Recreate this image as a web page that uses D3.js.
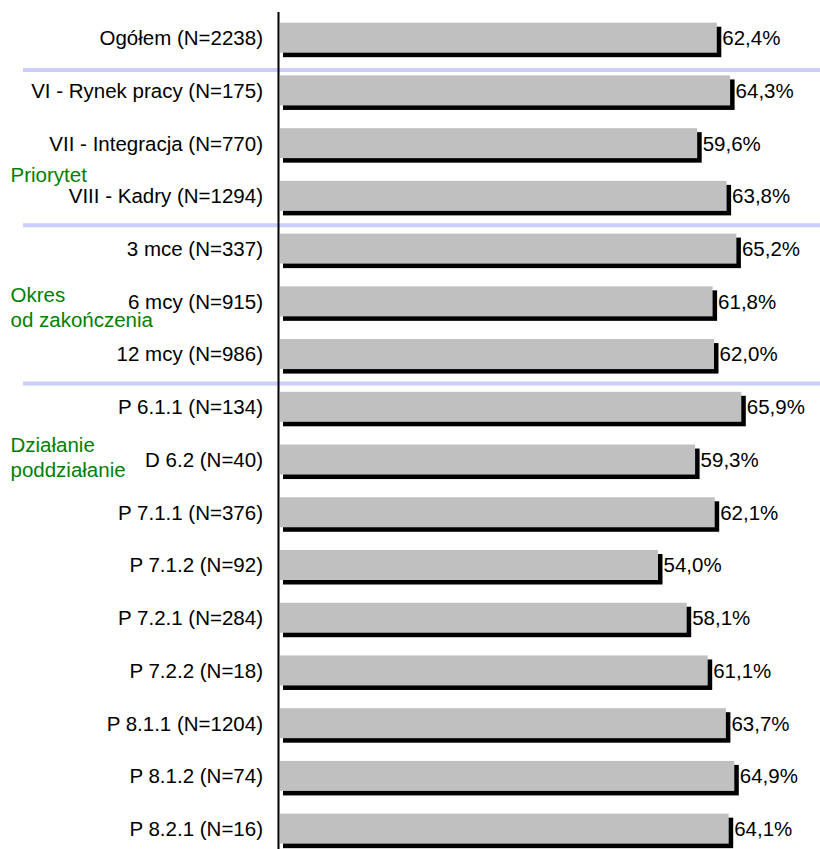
<!DOCTYPE html>
<html>
<head>
<meta charset="utf-8">
<script src="https://cdn.jsdelivr.net/npm/d3@7"></script>
<style>
  html, body { margin: 0; padding: 0; background: #ffffff; }
  svg { display: block; font-family: "Liberation Sans", Arial, sans-serif; }
</style>
</head>
<body>
<svg id="chart" width="820" height="849"></svg>
<script>
// ---- data ----
const categories = [
  "Ogółem (N=2238)",
  "VI - Rynek pracy (N=175)",
  "VII - Integracja (N=770)",
  "VIII - Kadry (N=1294)",
  "3 mce (N=337)",
  "6 mcy (N=915)",
  "12 mcy (N=986)",
  "P 6.1.1 (N=134)",
  "D 6.2 (N=40)",
  "P 7.1.1 (N=376)",
  "P 7.1.2 (N=92)",
  "P 7.2.1 (N=284)",
  "P 7.2.2 (N=18)",
  "P 8.1.1 (N=1204)",
  "P 8.1.2 (N=74)",
  "P 8.2.1 (N=16)"
];
const values = [62.4, 64.3, 59.6, 63.8, 65.2, 61.8, 62.0, 65.9, 59.3, 62.1, 54.0, 58.1, 61.1, 63.7, 64.9, 64.1];
const valueLabels = ["62,4%", "64,3%", "59,6%", "63,8%", "65,2%", "61,8%", "62,0%", "65,9%", "59,3%", "62,1%", "54,0%", "58,1%", "61,1%", "63,7%", "64,9%", "64,1%"];
// separators drawn after these category indices
const separatorsAfter = [0, 3, 6];
// group labels (lines) anchored to categories
const groupLabels = [
  { lines: ["Priorytet"], anchor: "VIII - Kadry (N=1294)" },
  { lines: ["Okres", "od zakończenia"], anchor: "6 mcy (N=915)" },
  { lines: ["Działanie", "poddziałanie"], anchor: "D 6.2 (N=40)" }
];

// ---- layout ----
const svg = d3.select("#chart");
const x0 = 280;
const x = d3.scaleLinear().domain([0, 100]).range([x0, x0 + 700]);
const step = 52.73;
const yStart = 37.7 - step / 2;
const y = d3.scaleBand()
  .domain(categories)
  .range([yStart, yStart + step * categories.length])
  .paddingInner(0.431)
  .paddingOuter(0.2155);
const bw = y.bandwidth();
const fontSize = 20.5;

// separator lines
const sepOffsets = [6, 3, 3];
svg.append("g").selectAll("line")
  .data(separatorsAfter)
  .join("line")
  .attr("x1", 23).attr("x2", 820)
  .attr("y1", (d, i) => (y(categories[d]) + bw + y(categories[d + 1])) / 2 + sepOffsets[i])
  .attr("y2", (d, i) => (y(categories[d]) + bw + y(categories[d + 1])) / 2 + sepOffsets[i])
  .attr("stroke", "#ccccff")
  .attr("stroke-width", 4);

// bars
const bars = svg.append("g").selectAll("g")
  .data(categories.map((c, i) => ({ c, v: values[i], l: valueLabels[i] })))
  .join("g");

bars.append("rect")
  .attr("x", x(0) + 3)
  .attr("y", d => y(d.c) + 4)
  .attr("width", d => x(d.v) - x(0) + 1.5)
  .attr("height", bw + 0.5)
  .attr("fill", "#000000");

bars.append("rect")
  .attr("x", x(0))
  .attr("y", d => y(d.c))
  .attr("width", d => x(d.v) - x(0))
  .attr("height", bw)
  .attr("fill", "#c0c0c0");

bars.append("text")
  .attr("x", d => x(d.v) + 5.5)
  .attr("y", d => y(d.c) + bw / 2)
  .attr("dy", "0.36em")
  .attr("font-size", fontSize)
  .attr("fill", "#000")
  .text(d => d.l);

// category labels
svg.append("g").selectAll("text")
  .data(categories)
  .join("text")
  .attr("x", 263)
  .attr("y", d => y(d) + bw / 2)
  .attr("dy", "0.36em")
  .attr("text-anchor", "end")
  .attr("font-size", fontSize)
  .attr("fill", "#000")
  .text(d => d);

// axis line
svg.append("line")
  .attr("x1", x0 - 1.5).attr("x2", x0 - 1.5)
  .attr("y1", 12).attr("y2", 849)
  .attr("stroke", "#000")
  .attr("stroke-width", 2);

// group labels
const groupOffsets = [-13.5, 0.5, -7.5];
groupLabels.forEach((g, gi) => {
  const base = y(g.anchor) + bw / 2 + groupOffsets[gi];
  g.lines.forEach((ln, li) => {
    svg.append("text")
      .attr("x", 10.5)
      .attr("y", base + li * 25)
      .attr("font-size", fontSize)
      .attr("fill", "#008000")
      .text(ln);
  });
});
</script>
</body>
</html>
